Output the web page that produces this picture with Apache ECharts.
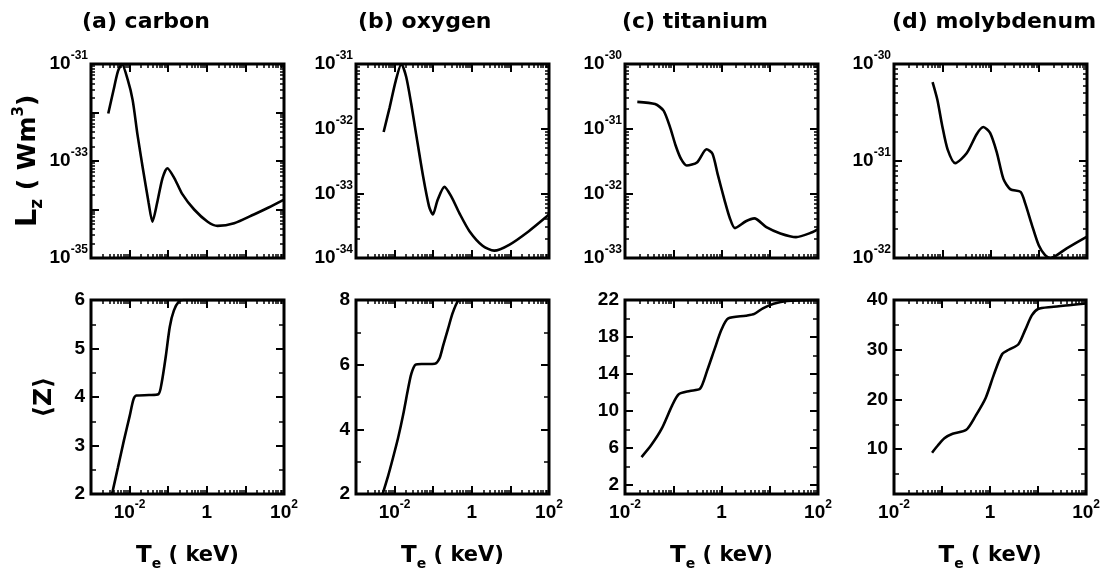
<!DOCTYPE html>
<html><head><meta charset="utf-8">
<script src="https://cdn.jsdelivr.net/npm/echarts@6/dist/echarts.min.js"></script>
<style>html,body{margin:0;padding:0;background:#fff}#c{width:1103px;height:577px}</style>
</head><body><div id="c"></div>
<script>
// ---------------- data ----------------
// Te in keV, Lz in W m^3, <Z> dimensionless
const carbonLzT = [2.8e-3, 3.8e-3, 5.0e-3, 6.3e-3, 8.9e-3, 1.2e-2, 1.6e-2, 2.2e-2, 3.1e-2, 3.9e-2, 5.2e-2, 7.1e-2, 9.5e-2, 0.145, 0.23, 0.47, 1.05, 1.9, 5.1, 16.6, 40, 100];
const carbonLz  = [9.5e-33, 2.8e-32, 7.1e-32, 1.0e-31, 4.8e-32, 1.8e-32, 3.5e-33, 7.1e-34, 1.4e-34, 5.6e-35, 1.4e-34, 4.4e-34, 7.1e-34, 4.4e-34, 2.1e-34, 1.0e-34, 5.6e-35, 4.6e-35, 5.2e-35, 7.9e-35, 1.1e-34, 1.6e-34];
const carbonZT  = [3.5e-3, 5.0e-3, 7.1e-3, 1.0e-2, 1.26e-2, 1.5e-2, 3.2e-2, 5.6e-2, 6.8e-2, 8.7e-2, 0.11, 0.14, 0.19, 0.25, 100];
const carbonZ   = [2.0, 2.55, 3.1, 3.6, 3.95, 4.03, 4.04, 4.06, 4.3, 4.85, 5.45, 5.78, 5.97, 6.0, 6.0];

const oxygenLzT = [5.2e-3, 7.4e-3, 1.07e-2, 1.5e-2, 2.0e-2, 2.7e-2, 3.6e-2, 5.5e-2, 7.8e-2, 9.8e-2, 0.13, 0.195, 0.295, 0.48, 0.87, 1.9, 3.8, 9.3, 30, 100];
const oxygenLz  = [8.9e-33, 2.1e-32, 5.5e-32, 1.0e-31, 6.3e-32, 2.4e-32, 8.3e-33, 1.8e-33, 6.3e-34, 4.7e-34, 7.9e-34, 1.26e-33, 8.9e-34, 4.9e-34, 2.6e-34, 1.55e-34, 1.3e-34, 1.6e-34, 2.6e-34, 4.7e-34];
const oxygenZT  = [4.9e-3, 6.8e-3, 9.1e-3, 1.23e-2, 1.66e-2, 2.24e-2, 2.7e-2, 3.5e-2, 5.5e-2, 0.11, 0.145, 0.18, 0.24, 0.32, 0.44, 0.59, 100];
const oxygenZ   = [2.0, 2.56, 3.12, 3.73, 4.44, 5.26, 5.71, 6.0, 6.02, 6.03, 6.19, 6.58, 7.09, 7.6, 7.97, 8.0, 8.0];

const titaniumLzT = [1.8e-2, 4.2e-2, 6.3e-2, 8.7e-2, 0.112, 0.145, 0.19, 0.31, 0.49, 0.65, 0.83, 1.17, 1.48, 1.9, 3.2, 4.8, 8.5, 16.6, 35, 76, 100];
const titaniumLz  = [2.6e-31, 2.4e-31, 1.9e-31, 1.02e-31, 5.5e-32, 3.4e-32, 2.7e-32, 3.0e-32, 4.8e-32, 4.1e-32, 2.0e-32, 7.6e-33, 4.2e-33, 2.9e-33, 3.7e-33, 4.1e-33, 3.0e-33, 2.4e-33, 2.1e-33, 2.5e-33, 2.8e-33];
const titaniumZT  = [2.2e-2, 3.5e-2, 5.8e-2, 9.5e-2, 0.13, 0.22, 0.36, 0.5, 0.71, 1.0, 1.38, 3.2, 4.8, 7.2, 12, 23, 100];
const titaniumZ   = [5.0, 6.3, 8.1, 10.6, 11.8, 12.15, 12.4, 14.3, 16.6, 18.8, 20.0, 20.3, 20.5, 21.1, 21.6, 21.9, 22.0];

const molyLzT = [6.3e-2, 7.9e-2, 0.1, 0.129, 0.186, 0.32, 0.52, 0.71, 0.98, 1.35, 1.86, 2.6, 4.2, 5.2, 7.2, 10, 13.5, 17.4, 38, 100];
const molyLz  = [6.5e-31, 4.3e-31, 2.3e-31, 1.32e-31, 9.5e-32, 1.2e-31, 1.9e-31, 2.24e-31, 1.95e-31, 1.23e-31, 6.5e-32, 5.1e-32, 4.8e-32, 3.7e-32, 2.2e-32, 1.35e-32, 1.07e-32, 1.0e-32, 1.26e-32, 1.66e-32];
const molyZT  = [6.2e-2, 8.1e-2, 0.112, 0.166, 0.32, 0.5, 0.81, 1.2, 1.78, 2.45, 3.9, 5.4, 7.4, 10, 19, 49, 100];
const molyZ   = [9.3, 10.7, 12.2, 13.1, 13.9, 16.7, 20.3, 25.0, 29.1, 30.0, 31.1, 34.0, 36.9, 38.2, 38.6, 39.0, 39.3];

// axis ranges and tick labels
const titles = ['(a) carbon', '(b) oxygen', '(c) titanium', '(d) molybdenum'];
const xRanges = [[1e-3, 1e2], [1e-3, 1e2], [1e-2, 1e2], [1e-2, 1e2]];
const xLabelValues = [1e-2, 1, 1e2];
// Lz axis ranges / labelled decades, given as powers of ten (W m^3)
const lzExpRanges = [[-35, -31], [-34, -31], [-33, -30], [-32, -30]];
const lzLabelExps = [[-35, -33, -31], [-34, -33, -32, -31], [-33, -32, -31, -30], [-32, -31, -30]];
const zRanges = [[2, 6], [2, 8], [1, 22], [1, 40]];
const zLabelValues = [[2, 3, 4, 5, 6], [2, 4, 6, 8], [2, 6, 10, 14, 18, 22], [10, 20, 30, 40]];
const zMinorValues = [[2.5, 3.5, 4.5, 5.5], [3, 5, 7], [4, 8, 12, 16, 20], [5, 15, 25, 35]];

const lzSeries = [[carbonLzT, carbonLz], [oxygenLzT, oxygenLz], [titaniumLzT, titaniumLz], [molyLzT, molyLz]];
const zSeries = [[carbonZT, carbonZ], [oxygenZT, oxygenZ], [titaniumZT, titaniumZ], [molyZT, molyZ]];

// ECharts rounds tick values to 10 decimals, so Lz is handed to the log axis in units of 1e-36 W m^3
const LZ_UNIT_EXP = -36;
const toUnit = v => v * Math.pow(10, -LZ_UNIT_EXP);
const expToUnit = e => Number('1e' + (e - LZ_UNIT_EXP));

// ---------------- layout / style ----------------
const FONT = "'Liberation Sans', Arial, sans-serif";
const TFONT = "'DejaVu Sans', sans-serif";
const W = 193, H = 194;
const lefts = [91, 356, 625, 894];
const tops = [64, 300];
const titleLefts = [82, 358, 622, 892];

function decades(e0, e1) {
  const major = [], minor = [];
  for (let e = e0; e <= e1; e++) {
    major.push(Number('1e' + e));
    if (e < e1) for (let k = 2; k <= 9; k++) minor.push(Number(k + 'e' + e));
  }
  return { major, minor };
}
function expLabel(e) {
  if (e === 0) return '{b|1}';
  return '{b|10}{s|' + (e < 0 ? '-' : '') + Math.abs(e) + '}';
}
const xFormatter = v => expLabel(Math.round(Math.log10(v)));
const lzFormatter = v => expLabel(Math.round(Math.log10(v)) + LZ_UNIT_EXP);
const expRich = {
  b: { fontFamily: FONT, fontWeight: 'bold', fontSize: 19, color: '#000', lineHeight: 28 },
  s: { fontFamily: FONT, fontWeight: 'bold', fontSize: 12, color: '#000', lineHeight: 12, verticalAlign: 'top' }
};
const nameRich = {
  m: { fontFamily: TFONT, fontWeight: 'bold', fontSize: 21, color: '#000', lineHeight: 30 },
  big: { fontFamily: TFONT, fontWeight: 'bold', fontSize: 23, color: '#000', lineHeight: 30 },
  sub: { fontFamily: TFONT, fontWeight: 'bold', fontSize: 14, color: '#000', lineHeight: 14, verticalAlign: 'bottom' },
  sup: { fontFamily: TFONT, fontWeight: 'bold', fontSize: 13, color: '#000', lineHeight: 14, verticalAlign: 'top' },
  ym: { fontFamily: TFONT, fontWeight: 'bold', fontSize: 25, color: '#000', lineHeight: 34 },
  ybig: { fontFamily: TFONT, fontWeight: 'bold', fontSize: 29, color: '#000', lineHeight: 34 },
  ysub: { fontFamily: TFONT, fontWeight: 'bold', fontSize: 17, color: '#000', lineHeight: 16, verticalAlign: 'bottom' },
  ysup: { fontFamily: TFONT, fontWeight: 'bold', fontSize: 15, color: '#000', lineHeight: 16, verticalAlign: 'top' }
};

const grids = [], xAxes = [], yAxes = [], series = [], titleOpts = [];

function tickAxis(base, values, len, width) {
  return Object.assign({}, base, {
    axisLine: { show: false, onZero: false },
    axisLabel: { show: false },
    splitLine: { show: false },
    axisTick: { show: true, inside: true, length: len, customValues: values, lineStyle: { color: '#000', width: width } }
  });
}

function addPanel(col, row) {
  const gi = grids.length;
  grids.push({ left: lefts[col], top: tops[row], width: W, height: H, show: true, borderColor: '#000', borderWidth: 3, backgroundColor: 'transparent' });
  const xr = xRanges[col];
  const xd = decades(Math.round(Math.log10(xr[0])), Math.round(Math.log10(xr[1])));
  const xBase = { gridIndex: gi, type: 'log', logBase: 10, min: xr[0], max: xr[1] };
  const xi = xAxes.length;
  const xMain = tickAxis(Object.assign({ position: 'bottom' }, xBase), xd.major, 8, 2);
  if (row === 1) {
    xMain.axisLabel = { show: true, customValues: xLabelValues, formatter: xFormatter, rich: expRich, margin: 5 };
    xMain.name = '{big|T}{sub|e}{m| ( keV)}';
    xMain.nameLocation = 'middle';
    xMain.nameGap = 47;
    xMain.nameTextStyle = { rich: nameRich };
  }
  xAxes.push(xMain);
  xAxes.push(tickAxis(Object.assign({ position: 'bottom' }, xBase), xd.minor, 4, 1.5));
  xAxes.push(tickAxis(Object.assign({ position: 'top' }, xBase), xd.major, 8, 2));
  xAxes.push(tickAxis(Object.assign({ position: 'top' }, xBase), xd.minor, 4, 1.5));

  const yi = yAxes.length;
  let yBase, yMajor, yMinor, yLabel, pts;
  if (row === 0) {
    const er = lzExpRanges[col];
    const yd = decades(er[0] - LZ_UNIT_EXP, er[1] - LZ_UNIT_EXP);
    yBase = { gridIndex: gi, type: 'log', logBase: 10, min: expToUnit(er[0]), max: expToUnit(er[1]) };
    yMajor = yd.major; yMinor = yd.minor;
    yLabel = { show: true, customValues: lzLabelExps[col].map(expToUnit), formatter: lzFormatter, rich: expRich, margin: 3 };
    const d = lzSeries[col];
    pts = d[0].map((t, i) => [t, toUnit(d[1][i])]);
  } else {
    const yr = zRanges[col];
    yBase = { gridIndex: gi, type: 'value', min: yr[0], max: yr[1] };
    yMajor = zLabelValues[col]; yMinor = zMinorValues[col];
    yLabel = { show: true, customValues: zLabelValues[col], margin: 6, fontFamily: FONT, fontWeight: 'bold', fontSize: 19, color: '#000' };
    const d = zSeries[col];
    pts = d[0].map((t, i) => [t, d[1][i]]);
  }
  const yMain = tickAxis(Object.assign({ position: 'left' }, yBase), yMajor, 8, 2);
  yMain.axisLabel = yLabel;
  if (col === 0) {
    yMain.nameLocation = 'middle';
    yMain.nameRotate = 90;
    yMain.nameTextStyle = { rich: nameRich };
    if (row === 0) { yMain.name = '{ybig|L}{ysub|z}{ym| ( Wm}{ysup|3}{ym|)}'; yMain.nameGap = 42; }
    else { yMain.name = '{ym|⟨Z⟩}'; yMain.nameGap = 30; }
  }
  yAxes.push(yMain);
  yAxes.push(tickAxis(Object.assign({ position: 'left' }, yBase), yMinor, row === 0 ? 4 : 5, 1.5));
  yAxes.push(tickAxis(Object.assign({ position: 'right' }, yBase), yMajor, 8, 2));
  yAxes.push(tickAxis(Object.assign({ position: 'right' }, yBase), yMinor, row === 0 ? 4 : 5, 1.5));

  series.push({
    type: 'line', xAxisIndex: xi, yAxisIndex: yi, data: pts,
    showSymbol: false, smooth: 0.25, clip: true, silent: true,
    lineStyle: { color: '#000', width: 2.6 }, z: 5
  });
}

for (let r = 0; r < 2; r++) for (let c = 0; c < 4; c++) addPanel(c, r);
for (let c = 0; c < 4; c++) {
  titleOpts.push({ text: titles[c], left: titleLefts[c], top: 11, padding: 0,
    textStyle: { fontFamily: TFONT, fontWeight: 'bold', fontSize: 22, color: '#000' } });
}

const chart = echarts.init(document.getElementById('c'), null, { renderer: 'canvas' });
chart.setOption({
  backgroundColor: '#fff',
  animation: false,
  title: titleOpts,
  grid: grids,
  xAxis: xAxes,
  yAxis: yAxes,
  series: series
});
</script>
</body></html>
